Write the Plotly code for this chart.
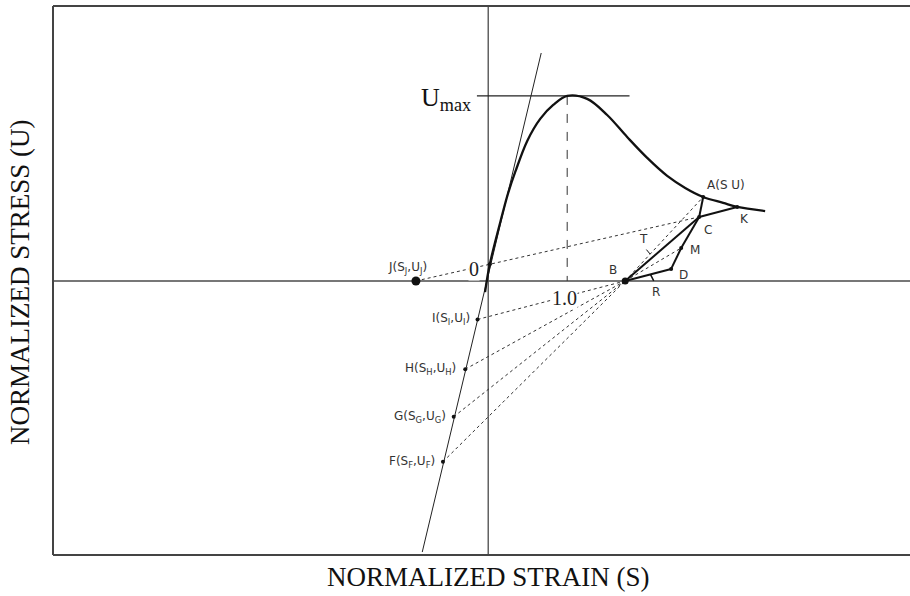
import plotly.graph_objects as go

# ---- data (normalized strain S, normalized stress U) ----
curve_S = [-0.04, 0.02, 0.177, 0.253, 0.342, 0.494, 0.658, 0.823, 1.0, 1.253, 1.506, 1.759, 2.013, 2.266, 2.494, 2.722, 2.975, 3.152, 3.506]
curve_U = [-0.06, 0.09, 0.357, 0.476, 0.589, 0.757, 0.876, 0.951, 1.0, 0.984, 0.897, 0.778, 0.665, 0.568, 0.503, 0.454, 0.422, 0.400, 0.378]

stiff_S = [0.671, -0.835]
stiff_U = [1.232, -1.465]

umax_S = [-0.143, 1.789]
umax_U = [1.0, 1.0]
peak_S = [1.0, 1.0]
peak_U = [1.0, 0.0]

point_names = ["A", "B", "C", "D", "K", "M", "F", "G", "H", "I", "J", "O"]
point_S = [2.722, 1.734, 2.671, 2.316, 3.152, 2.443, -0.573, -0.437, -0.291, -0.135, -0.915, 0.02]
point_U = [0.454, 0.0, 0.346, 0.065, 0.400, 0.178, -0.977, -0.734, -0.477, -0.208, 0.0, 0.09]
P = {n: (s, u) for n, s, u in zip(point_names, point_S, point_U)}

dotted_segments = [("J", "C"), ("I", "B"), ("H", "B"), ("G", "B"), ("F", "B"), ("B", "A"), ("B", "M")]
solid_segments = [("B", "C"), ("C", "M"), ("M", "D"), ("B", "D"), ("A", "C"), ("C", "K")]

x_range = [-5.51, 5.34]
y_range = [-1.481, 1.486]

fig = go.Figure()

# axes through origin
fig.add_trace(go.Scatter(x=[0, 0], y=y_range, mode="lines", line=dict(color="#4a4a4a", width=1.3), hoverinfo="skip"))
fig.add_trace(go.Scatter(x=x_range, y=[0, 0], mode="lines", line=dict(color="#4a4a4a", width=1.5), hoverinfo="skip"))

# stiffness line
fig.add_trace(go.Scatter(x=stiff_S, y=stiff_U, mode="lines", line=dict(color="#222", width=1), hoverinfo="skip"))
# Umax line and dashed drop
fig.add_trace(go.Scatter(x=umax_S, y=umax_U, mode="lines", line=dict(color="#222", width=1.2), hoverinfo="skip"))
fig.add_trace(go.Scatter(x=peak_S, y=peak_U, mode="lines", line=dict(color="#333", width=1, dash="dash"), hoverinfo="skip"))

for a, b in dotted_segments:
    fig.add_trace(go.Scatter(x=[P[a][0], P[b][0]], y=[P[a][1], P[b][1]], mode="lines",
                             line=dict(color="#333", width=1, dash="dot"), hoverinfo="skip"))
for a, b in solid_segments:
    fig.add_trace(go.Scatter(x=[P[a][0], P[b][0]], y=[P[a][1], P[b][1]], mode="lines",
                             line=dict(color="#111", width=2), hoverinfo="skip"))

# main curve
fig.add_trace(go.Scatter(x=curve_S, y=curve_U, mode="lines",
                         line=dict(color="#111", width=2.3, shape="spline", smoothing=1.0), hoverinfo="skip"))

# points
fig.add_trace(go.Scatter(x=point_S, y=point_U, mode="markers", marker=dict(color="#111", size=4), hoverinfo="skip"))
fig.add_trace(go.Scatter(x=[P["J"][0]], y=[P["J"][1]], mode="markers", marker=dict(color="#111", size=9), hoverinfo="skip"))
fig.add_trace(go.Scatter(x=[P["B"][0]], y=[P["B"][1]], mode="markers", marker=dict(color="#111", size=7), hoverinfo="skip"))

sans = dict(family="DejaVu Sans", size=12, color="#333")
serif = "Liberation Serif"

def lab(name, text, dx, dy, xanchor="center"):
    fig.add_annotation(x=P[name][0], y=P[name][1], text=text, showarrow=False, xshift=dx, yshift=dy,
                       xanchor=xanchor, yanchor="middle", font=sans)

lab("A", "A(S U)", 23, 12)
lab("K", "K", 7, -12)
lab("C", "C", 9, -13)
lab("M", "M", 14, -2)
lab("D", "D", 12, -6)
lab("B", "B", -12, 11)
lab("J", "J(S<sub>J</sub>,U<sub>J</sub>)", 13, 13, "right")
lab("I", "I(S<sub>I</sub>,U<sub>I</sub>)", -6, 0, "right")
lab("H", "H(S<sub>H</sub>,U<sub>H</sub>)", -7, 0, "right")
lab("G", "G(S<sub>G</sub>,U<sub>G</sub>)", -6, 0, "right")
lab("F", "F(S<sub>F</sub>,U<sub>F</sub>)", -6, 0, "right")

# R and T ticks/labels
rb = (P["B"][0] * 0.45 + P["D"][0] * 0.55, P["B"][1] * 0.45 + P["D"][1] * 0.55)
fig.add_annotation(x=rb[0], y=rb[1], ax=4, ay=8, text="", showarrow=True, arrowhead=0, arrowwidth=1.5, arrowcolor="#111")
fig.add_annotation(x=rb[0], y=rb[1], text="R", showarrow=False, xshift=6, yshift=-18, font=sans)
tb = (P["B"][0] * 0.68 + P["A"][0] * 0.32, P["B"][1] * 0.68 + P["A"][1] * 0.32)
fig.add_annotation(x=tb[0], y=tb[1], ax=-5, ay=-6, text="", showarrow=True, arrowhead=0, arrowwidth=1, arrowcolor="#111")
fig.add_annotation(x=tb[0], y=tb[1], text="T", showarrow=False, xshift=-7, yshift=15, font=sans)

# origin / 1.0 labels
fig.add_annotation(x=P["O"][0], y=P["O"][1], text="0", showarrow=False, xshift=-16, yshift=-5,
                   font=dict(family=serif, size=20, color="#222"), bgcolor="white", borderpad=0)
fig.add_annotation(x=1.0, y=0, text="1.0", showarrow=False, xshift=-3, yshift=-17,
                   font=dict(family=serif, size=20, color="#222"), bgcolor="white", borderpad=0)

# Umax
fig.add_annotation(x=umax_S[0], y=umax_U[0], text="U<sub>max</sub>", showarrow=False, xanchor="right", xshift=-4, yshift=-3,
                   font=dict(family=serif, size=26, color="#111"))

# axis titles
fig.add_annotation(xref="paper", yref="paper", x=(488 - 53) / 857, y=(555 - 577) / 549, text="NORMALIZED STRAIN (S)",
                   showarrow=False, yanchor="middle", font=dict(family=serif, size=27, color="#111"))
fig.add_annotation(xref="paper", yref="paper", x=(20 - 53) / 857, y=(555 - 282) / 549, text="NORMALIZED STRESS (U)",
                   showarrow=False, textangle=-90, xanchor="center", yanchor="middle", font=dict(family=serif, size=27, color="#111"))

# frame (top, left, bottom)
for x0, y0, x1, y1 in [(0, 1, 1, 1), (0, 0, 0, 1), (0, 0, 1, 0)]:
    fig.add_shape(type="line", xref="paper", yref="paper", x0=x0, y0=y0, x1=x1, y1=y1, line=dict(color="#444", width=2))

fig.update_layout(
    width=910, height=596, showlegend=False,
    margin=dict(l=53, r=0, t=6, b=41),
    plot_bgcolor="white", paper_bgcolor="white",
    xaxis=dict(range=x_range, visible=False),
    yaxis=dict(range=y_range, visible=False),
)
fig.write_html("out.html")
